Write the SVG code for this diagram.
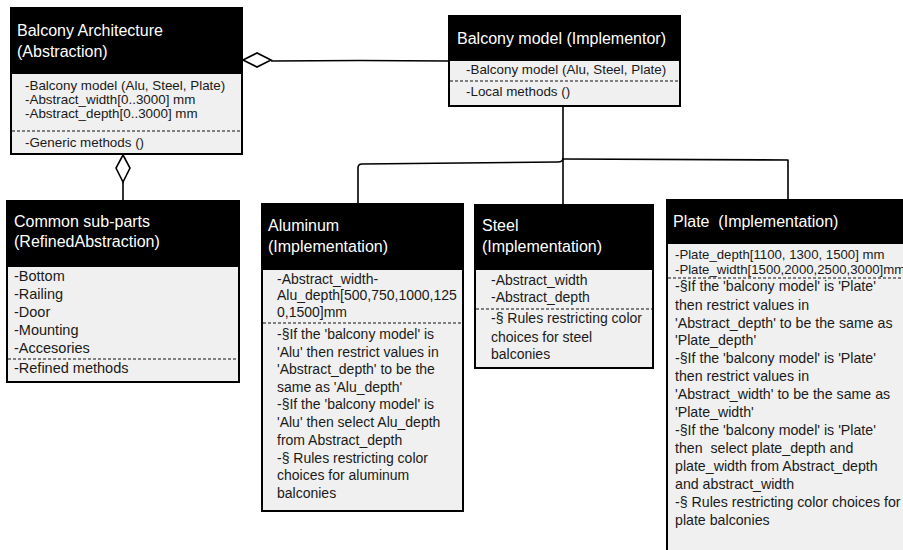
<svg xmlns="http://www.w3.org/2000/svg" width="903" height="550" viewBox="0 0 903 550">
<style>
.box{fill:#f0f0f0;stroke:#000;stroke-width:2}
.hdr{fill:#000;stroke:#000;stroke-width:2}
.dash{stroke:#111;stroke-width:1.2;stroke-dasharray:3 2;fill:none}
.t{font-family:"Liberation Sans",Arial,sans-serif;fill:#fff;font-size:16px}
.b{font-family:"Liberation Sans",Arial,sans-serif;fill:#1a1a1a}
.s13{font-size:13.4px}
.s132{font-size:13.2px}
.s14{font-size:14px}
.s142{font-size:14.2px}
.s145{font-size:14.5px}
.c{fill:none;stroke:#000;stroke-width:1.6;stroke-linejoin:round}
.dia{fill:#fff;stroke:#000;stroke-width:1.6}
</style>
<rect width="903" height="550" fill="#fff"/>
<g id="connectors">
<path class="c" d="M271,61 Q360,60 449,61"/>
<polygon class="dia" points="243,60 257,53 271,60 257,67"/>
<path class="c" d="M123,182 L123,201"/>
<polygon class="dia" points="123,155 130,168 123,182 116,168"/>
<path class="c" d="M563,106 L563,204"/>
<path class="c" d="M563,158 Q563,162 558,162 L362,164 Q358,164 358,168 L358,203"/>
<path class="c" d="M563,159 L788,160 L788,200"/>
</g>
<g id="balcony-architecture">
<rect class="box" x="11" y="8" width="231" height="146"/>
<rect class="hdr" x="11" y="8" width="231" height="65"/>
<text class="t" x="17" y="36">Balcony Architecture</text>
<text class="t" x="17" y="57">(Abstraction)</text>
<text class="b s13" x="25" y="90">-Balcony model (Alu, Steel, Plate)</text>
<text class="b s13" x="25" y="104">-Abstract_width[0..3000] mm</text>
<text class="b s13" x="25" y="118">-Abstract_depth[0..3000] mm</text>
<line class="dash" x1="12" y1="131" x2="241" y2="131"/>
<text class="b s13" x="25" y="147">-Generic methods ()</text>
</g>
<g id="balcony-model">
<rect class="box" x="449" y="16" width="231" height="90"/>
<rect class="hdr" x="449" y="16" width="231" height="44"/>
<text class="t" x="457" y="44">Balcony model (Implementor)</text>
<text class="b s13" x="466" y="74">-Balcony model (Alu, Steel, Plate)</text>
<line class="dash" x1="450" y1="81" x2="679" y2="81"/>
<text class="b s13" x="466" y="96">-Local methods ()</text>
</g>
<g id="common-sub-parts">
<rect class="box" x="7" y="201" width="232" height="181"/>
<rect class="hdr" x="7" y="201" width="232" height="65"/>
<text class="t" x="14" y="227">Common sub-parts</text>
<text class="t" x="14" y="247">(RefinedAbstraction)</text>
<text class="b s145" x="14" y="281">-Bottom</text>
<text class="b s145" x="14" y="299">-Railing</text>
<text class="b s145" x="14" y="317">-Door</text>
<text class="b s145" x="14" y="335">-Mounting</text>
<text class="b s145" x="14" y="353">-Accesories</text>
<line class="dash" x1="8" y1="359" x2="238" y2="359"/>
<text class="b s145" x="14" y="373">-Refined methods</text>
</g>
<g id="aluminum">
<rect class="box" x="262" y="204" width="201" height="307"/>
<rect class="hdr" x="262" y="204" width="201" height="65"/>
<text class="t" x="268" y="231">Aluminum</text>
<text class="t" x="268" y="252">(Implementation)</text>
<text class="b s14" x="277" y="284">-Abstract_width-</text>
<text class="b s14" x="277" y="300">Alu_depth[500,750,1000,125</text>
<text class="b s14" x="277" y="317">0,1500]mm</text>
<line class="dash" x1="263" y1="323" x2="462" y2="323"/>
<text class="b s14" x="277" y="339">-§If the 'balcony model' is</text>
<text class="b s14" x="277" y="357">'Alu' then restrict values in</text>
<text class="b s14" x="277" y="374">'Abstract_depth' to be the</text>
<text class="b s14" x="277" y="392">same as 'Alu_depth'</text>
<text class="b s14" x="277" y="409">-§If the 'balcony model' is</text>
<text class="b s14" x="277" y="427">'Alu' then select Alu_depth</text>
<text class="b s14" x="277" y="445">from Abstract_depth</text>
<text class="b s14" x="277" y="463">-§ Rules restricting color</text>
<text class="b s14" x="277" y="480">choices for aluminum</text>
<text class="b s14" x="277" y="498">balconies</text>
</g>
<g id="steel">
<rect class="box" x="475" y="205" width="178" height="163"/>
<rect class="hdr" x="475" y="205" width="178" height="64"/>
<text class="t" x="482" y="231">Steel</text>
<text class="t" x="482" y="252">(Implementation)</text>
<text class="b s14" x="491" y="285">-Abstract_width</text>
<text class="b s14" x="491" y="302">-Abstract_depth</text>
<line class="dash" x1="476" y1="309" x2="652" y2="309"/>
<text class="b s14" x="491" y="323">-§ Rules restricting color</text>
<text class="b s14" x="491" y="342">choices for steel</text>
<text class="b s14" x="491" y="359">balconies</text>
</g>
<g id="plate">
<rect class="box" x="667" y="200" width="260" height="370"/>
<rect class="hdr" x="667" y="200" width="260" height="43"/>
<text class="t" x="673" y="227" xml:space="preserve">Plate  (Implementation)</text>
<text class="b s132" x="675" y="259">-Plate_depth[1100, 1300, 1500] mm</text>
<text class="b s132" x="675" y="274">-Plate_width[1500,2000,2500,3000]mm</text>
<line class="dash" x1="668" y1="278" x2="903" y2="278"/>
<text class="b s142" x="675" y="291">-§If the 'balcony model' is 'Plate'</text>
<text class="b s142" x="675" y="310">then restrict values in</text>
<text class="b s142" x="675" y="328">'Abstract_depth' to be the same as</text>
<text class="b s142" x="675" y="345">'Plate_depth'</text>
<text class="b s142" x="675" y="363">-§If the 'balcony model' is 'Plate'</text>
<text class="b s142" x="675" y="381">then restrict values in</text>
<text class="b s142" x="675" y="399">'Abstract_width' to be the same as</text>
<text class="b s142" x="675" y="417">'Plate_width'</text>
<text class="b s142" x="675" y="435">-§If the 'balcony model' is 'Plate'</text>
<text class="b s142" x="675" y="453" xml:space="preserve">then  select plate_depth and</text>
<text class="b s142" x="675" y="471">plate_width from Abstract_depth</text>
<text class="b s142" x="675" y="489">and abstract_width</text>
<text class="b s142" x="675" y="507">-§ Rules restricting color choices for</text>
<text class="b s142" x="675" y="525">plate balconies</text>
</g>
</svg>
